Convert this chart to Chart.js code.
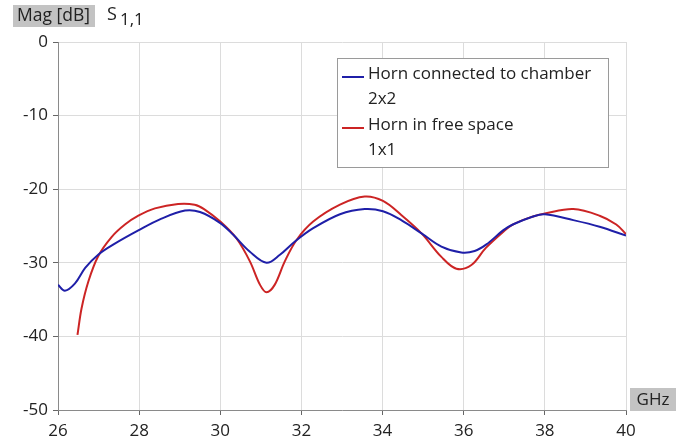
<!DOCTYPE html>
<html>
<head>
<meta charset="utf-8">
<script src="https://cdn.jsdelivr.net/npm/chart.js@4"></script>
<style>
  html, body { margin: 0; padding: 0; background: #fff; }
  #wrap { width: 679px; height: 444px; }
</style>
</head>
<body>
<div id="wrap"><canvas id="chart" width="679" height="444"></canvas></div>
<script>
// S11 magnitude, GHz vs dB
const chamberFreq = [26.0, 26.17, 26.42, 26.67, 26.99, 27.4, 27.98, 28.55, 29.13, 29.5, 30.0, 30.32, 30.73, 31.14, 31.47, 31.84, 32.29, 32.95, 33.56, 34.01, 34.46, 34.96, 35.45, 35.94, 36.27, 36.56, 36.97, 37.21, 37.71, 38.0, 38.7, 39.35, 40.0];
const chamberMag  = [-33.0, -33.8, -32.8, -30.7, -28.9, -27.4, -25.6, -24.0, -22.9, -23.1, -24.6, -26.2, -28.5, -30.0, -28.9, -27.1, -25.3, -23.4, -22.7, -23.0, -24.2, -26.0, -27.8, -28.6, -28.4, -27.5, -25.6, -24.8, -23.7, -23.4, -24.2, -25.1, -26.3];

const freeFreq = [26.48, 26.58, 26.75, 26.99, 27.32, 27.65, 27.98, 28.39, 28.96, 29.37, 29.6, 30.0, 30.4, 30.73, 30.98, 31.14, 31.34, 31.59, 31.88, 32.29, 32.95, 33.56, 34.01, 34.46, 34.96, 35.45, 35.82, 36.19, 36.54, 36.97, 37.21, 37.71, 38.0, 38.7, 39.35, 39.76, 40.0];
const freeMag  = [-39.8, -36.2, -32.5, -29.1, -26.5, -24.8, -23.6, -22.6, -22.0, -22.1, -22.7, -24.4, -26.7, -29.8, -33.0, -34.0, -33.0, -29.8, -26.9, -24.4, -22.1, -21.0, -21.6, -23.5, -26.0, -29.2, -30.8, -30.3, -28.0, -25.8, -24.8, -23.7, -23.3, -22.7, -23.6, -24.8, -26.1];

const seriesLabels = [['Horn connected to chamber', '2x2'], ['Horn in free space', '1x1']];
const seriesColors = ['#1f1fa8', '#cc2424'];

const xTicks = [26, 28, 30, 32, 34, 36, 38, 40];
const yTicks = [-50, -40, -30, -20, -10, 0];

const FONT = '"Open Sans", "Segoe UI", sans-serif';

function toPoints(xs, ys){ return xs.map((x, i) => ({ x: x, y: ys[i] })); }

// boxed axis captions + two-line legend
const decorations = {
  id: 'decorations',
  afterDraw(chart){
    const ctx = chart.ctx;
    ctx.save();
    ctx.textBaseline = 'middle';
    // "Mag [dB]" caption
    ctx.fillStyle = '#c3c3c3';
    ctx.fillRect(13, 5, 82, 22);
    ctx.fillStyle = '#222';
    ctx.font = '17.5px ' + FONT;
    ctx.textAlign = 'left';
    ctx.fillText('Mag [dB]', 17, 16.5);
    // S 1,1
    ctx.font = '18px ' + FONT;
    ctx.fillText('S', 107, 15);
    ctx.font = '17px ' + FONT;
    ctx.fillText('1,1', 120, 20);
    // GHz caption
    ctx.fillStyle = '#c3c3c3';
    ctx.fillRect(630, 388, 46, 23);
    ctx.fillStyle = '#222';
    ctx.font = '17px ' + FONT;
    ctx.textAlign = 'center';
    ctx.fillText('GHz', 653, 400);

    // legend
    const bx = 337, by = 58, bw = 271, bh = 109;
    ctx.fillStyle = '#fff';
    ctx.fillRect(bx, by, bw, bh);
    ctx.strokeStyle = '#9a9a9a';
    ctx.lineWidth = 1;
    ctx.strokeRect(bx + 0.5, by + 0.5, bw, bh);
    ctx.textAlign = 'left';
    ctx.font = '17px ' + FONT;
    seriesLabels.forEach((lines, i) => {
      const y0 = by + 16 + i * 51;
      ctx.strokeStyle = seriesColors[i];
      ctx.lineWidth = 2;
      ctx.beginPath();
      ctx.moveTo(342, y0 + 3);
      ctx.lineTo(364, y0 + 3);
      ctx.stroke();
      ctx.fillStyle = '#222';
      lines.forEach((t, j) => ctx.fillText(t, 368, y0 + j * 25.5));
    });
    ctx.restore();
  }
};

new Chart(document.getElementById('chart'), {
  type: 'line',
  data: {
    datasets: [
      { label: seriesLabels[0].join(' '), data: toPoints(chamberFreq, chamberMag), borderColor: seriesColors[0], borderWidth: 2, pointRadius: 0, tension: 0.35, fill: false },
      { label: seriesLabels[1].join(' '), data: toPoints(freeFreq, freeMag), borderColor: seriesColors[1], borderWidth: 2, pointRadius: 0, tension: 0.35, fill: false }
    ]
  },
  options: {
    responsive: false,
    animation: false,
    layout: { padding: { top: 42, right: 53, left: 0, bottom: 0 } },
    plugins: { legend: { display: false }, tooltip: { enabled: false } },
    scales: {
      x: {
        type: 'linear', min: 26, max: 40,
        afterFit: s => { s.height = 34; },
        afterBuildTicks: s => { s.ticks = xTicks.map(v => ({ value: v })); },
        ticks: { color: '#222', font: { family: FONT, size: 17 }, padding: 6, maxRotation: 0 },
        grid: { color: '#dcdcdc', tickColor: '#666', tickLength: 5 },
        border: { color: '#8a8a8a' }
      },
      y: {
        min: -50, max: 0,
        afterFit: s => { s.width = 58; },
        afterBuildTicks: s => { s.ticks = yTicks.map(v => ({ value: v })); },
        ticks: { color: '#222', font: { family: FONT, size: 17 }, padding: 5 },
        grid: { color: '#dcdcdc', tickColor: '#666', tickLength: 5 },
        border: { color: '#8a8a8a' }
      }
    }
  },
  plugins: [decorations]
});
</script>
</body>
</html>
